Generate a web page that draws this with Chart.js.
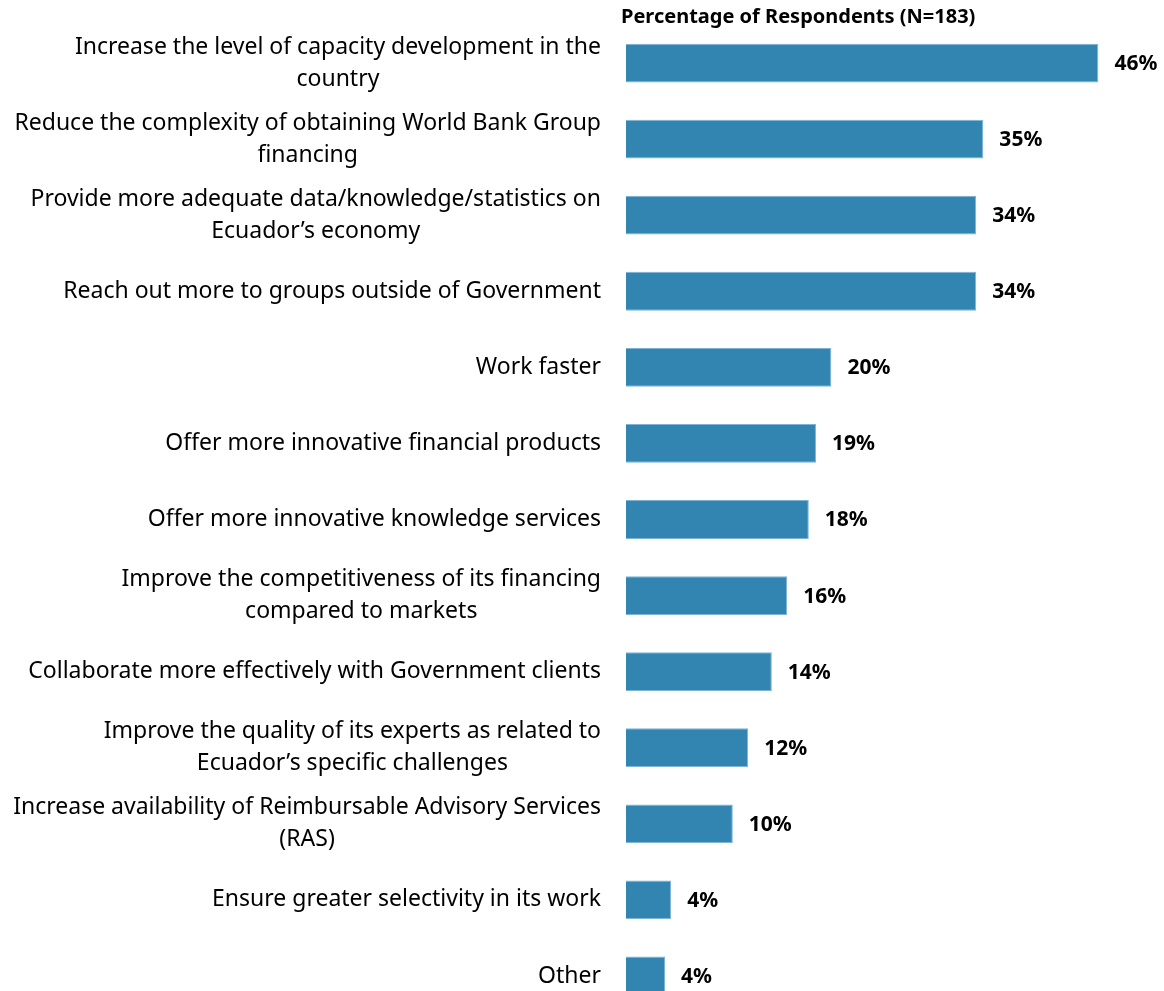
<!DOCTYPE html>
<html>
<head>
<meta charset="utf-8">
<script src="https://cdn.jsdelivr.net/npm/chart.js@4/dist/chart.umd.min.js"></script>
<style>
  html, body { margin: 0; padding: 0; background: #fff; overflow: hidden; }
  #wrap { width: 1164px; height: 1016px; position: relative; }
</style>
</head>
<body>
<div id="wrap"><canvas id="chart"></canvas></div>
<script>
const categories = [
  ['Increase the level of capacity development in the', 'country'],
  ['Reduce the complexity of obtaining World Bank Group', 'financing'],
  ['Provide more adequate data/knowledge/statistics on', 'Ecuador\u2019s economy'],
  ['Reach out more to groups outside of Government'],
  ['Work faster'],
  ['Offer more innovative financial products'],
  ['Offer more innovative knowledge services'],
  ['Improve the competitiveness of its financing', 'compared to markets'],
  ['Collaborate more effectively with Government clients'],
  ['Improve the quality of its experts as related to', 'Ecuador\u2019s specific challenges'],
  ['Increase availability of Reimbursable Advisory Services', '(RAS)'],
  ['Ensure greater selectivity in its work'],
  ['Other']
];
const values = [46.0, 34.8, 34.1, 34.1, 20.0, 18.5, 17.8, 15.7, 14.2, 11.9, 10.4, 4.4, 3.8];
const title = 'Percentage of Respondents (N=183)';

const labelFont = '23px "Noto Sans"';
const valueFont = 'bold 21px "Noto Sans"';
const titleFont = 'bold 20px "Noto Sans"';

const labelsPlugin = {
  id: 'labels',
  afterDraw(chart) {
    const ctx = chart.ctx;
    const area = chart.chartArea;
    const y = chart.scales.y;
    const meta = chart.getDatasetMeta(0);
    ctx.save();
    ctx.fillStyle = '#000';
    ctx.textBaseline = 'middle';

    // category labels, block right aligned, lines centred in block
    ctx.font = labelFont;
    ctx.textAlign = 'center';
    const right = area.left - 25;
    const lineH = 32;
    categories.forEach((lines, i) => {
      const cy = y.getPixelForValue(i);
      let maxW = 0;
      lines.forEach(l => { maxW = Math.max(maxW, ctx.measureText(l).width); });
      const cx = right - maxW / 2;
      const y0 = cy - (lines.length - 1) * lineH / 2;
      lines.forEach((l, k) => ctx.fillText(l, cx, y0 + k * lineH));
    });

    // value labels
    ctx.font = valueFont;
    ctx.textAlign = 'left';
    meta.data.forEach((bar, i) => {
      ctx.fillText(Math.round(values[i]) + '%', bar.x + 16, bar.y + 1);
    });

    // title
    ctx.font = titleFont;
    ctx.fillText(title, area.left - 5, 17);
    ctx.restore();
  }
};

new Chart(document.getElementById('chart'), {
  type: 'bar',
  data: {
    labels: categories,
    datasets: [{
      data: values,
      backgroundColor: '#3385B1',
      borderColor: '#7DB4D6',
      borderWidth: 1,
      barPercentage: 0.51,
      categoryPercentage: 1
    }]
  },
  options: {
    indexAxis: 'y',
    responsive: true,
    maintainAspectRatio: false,
    animation: false,
    layout: { padding: { left: 626, top: 25, right: 4, bottom: 2 } },
    plugins: { legend: { display: false }, tooltip: { enabled: false } },
    scales: {
      x: { display: false, min: 0, max: 52 },
      y: { display: false }
    }
  },
  plugins: [labelsPlugin]
});
</script>
</body>
</html>
